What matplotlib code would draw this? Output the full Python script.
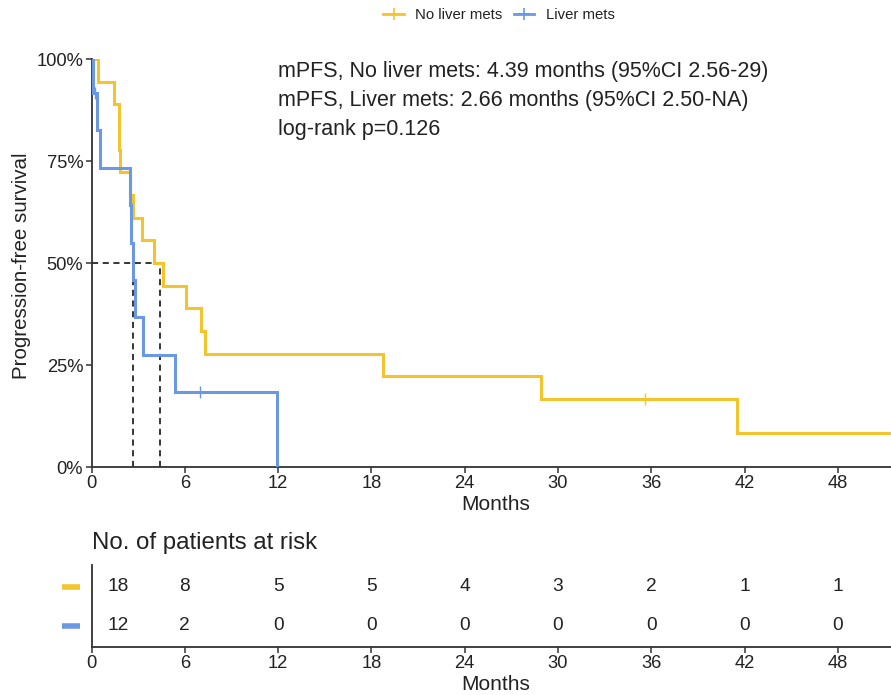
import numpy as np
import matplotlib
matplotlib.use("Agg")
import matplotlib.pyplot as plt
from matplotlib.lines import Line2D
from matplotlib import transforms

plt.rcParams['font.family'] = ['Liberation Sans', 'DejaVu Sans']

# ---- data: progression-free survival times (months) and event flags (1 = progression, 0 = censored)
no_liver_times = [0.39, 1.44, 1.75, 1.80, 1.85, 2.50, 2.70, 3.25, 4.05, 4.63,
                  6.08, 7.05, 7.33, 18.75, 28.90, 35.60, 41.50, 53.00]
no_liver_events = [1, 1, 1, 1, 1, 1, 1, 1, 1, 1,
                   1, 1, 1, 1, 1, 0, 1, 0]
liver_times = [0.10, 0.25, 0.35, 0.56, 2.48, 2.56, 2.66, 2.80, 3.34, 5.38, 6.95, 11.95]
liver_events = [1, 0, 1, 1, 1, 1, 1, 1, 1, 1, 0, 1]

group_names = ["No liver mets", "Liver mets"]
group_colors = ["#F3C42C", "#6A98E4"]
medians = [4.39, 2.66]

risk_times = [0, 6, 12, 18, 24, 30, 36, 42, 48]
risk_no_liver = [18, 8, 5, 5, 4, 3, 2, 1, 1]
risk_liver = [12, 2, 0, 0, 0, 0, 0, 0, 0]

annot_lines = ["mPFS, No liver mets: 4.39 months (95%CI 2.56-29)",
               "mPFS, Liver mets: 2.66 months (95%CI 2.50-NA)",
               "log-rank p=0.126"]


def kaplan_meier(times, events):
    t = np.asarray(times, float)
    e = np.asarray(events, int)
    order = np.lexsort((-e, t))
    t, e = t[order], e[order]
    n = len(t)
    xs, ys = [0.0], [1.0]
    cens_x, cens_y = [], []
    s = 1.0
    at_risk = n
    for ti, ei in zip(t, e):
        if ei == 1:
            xs.append(ti); ys.append(s)
            s *= (at_risk - 1) / at_risk
            xs.append(ti); ys.append(s)
        else:
            cens_x.append(ti); cens_y.append(s)
        at_risk -= 1
    if xs[-1] < t.max():
        xs.append(t.max()); ys.append(s)
    return np.array(xs), np.array(ys), cens_x, cens_y


W, H = 891, 695
fig = plt.figure(figsize=(W / 100, H / 100), dpi=100)
TXT = "#222222"
AX = "#333333"
TICK_FS = 13.2

x_left = 91.5
xmax = (W - x_left) / (93.3 / 6)

# ---- main survival panel
ax = fig.add_axes([x_left / W, 1 - 467 / H, 1 - x_left / W, 408 / H])
for (times, events), col in zip([(no_liver_times, no_liver_events),
                                 (liver_times, liver_events)], group_colors):
    xs, ys, cx, cy = kaplan_meier(times, events)
    ax.plot(xs, ys, color=col, lw=2.2, solid_joinstyle='miter', zorder=3)
    ax.plot(cx, cy, linestyle='none', marker='|', markersize=9, mew=1.0,
            color=col, zorder=3)

# median guide lines
ax.plot([0, max(medians)], [0.5, 0.5], color='black', lw=1.1, ls=(0, (4, 3)), zorder=2)
for m in medians:
    ax.plot([m, m], [0, 0.5], color='black', lw=1.1, ls=(0, (4, 3)), zorder=2)

ax.set_xlim(0, xmax)
ax.set_ylim(0, 1)
ax.set_xticks(risk_times)
ax.set_yticks([0, 0.25, 0.5, 0.75, 1.0])
ax.set_yticklabels(["0%", "25%", "50%", "75%", "100%"])
for sp in ['top', 'right']:
    ax.spines[sp].set_visible(False)
for sp in ['left', 'bottom']:
    ax.spines[sp].set_color(AX)
    ax.spines[sp].set_linewidth(1.3)
ax.tick_params(axis='both', direction='out', length=4, width=1.1, color=AX,
               labelsize=TICK_FS, labelcolor=TXT, pad=2)

fig.text(496 / W, 1 - 505 / H, "Months", ha='center', va='center', fontsize=15, color=TXT)
fig.text(22 / W, 1 - 265.5 / H, "Progression-free survival", ha='center', va='center',
         rotation=90, fontsize=14.8, color=TXT)

for i, line in enumerate(annot_lines):
    fig.text(278 / W, 1 - (71 + 29.5 * i) / H, line, ha='left', va='center',
             fontsize=15.5, color=TXT)

# legend
handles = [Line2D([0], [0], color=c, lw=2, marker='+', markersize=8, mew=1.2)
           for c in group_colors]
fig.legend(handles, group_names, loc='center', bbox_to_anchor=(499 / W, 1 - 15 / H),
           ncol=2, frameon=False, fontsize=10.7, handlelength=1.35, handletextpad=0.8,
           columnspacing=0.74, labelcolor=TXT, borderpad=0.2)

# ---- number-at-risk table
rax = fig.add_axes([x_left / W, 1 - 647 / H, 1 - x_left / W, 82 / H])
rax.set_xlim(0, xmax)
rax.set_ylim(1.54, -0.56)
for row, counts in enumerate([risk_no_liver, risk_liver]):
    for t, n in zip(risk_times, counts):
        if t == 0:
            rax.annotate(str(n), (t, row), xytext=(19, 0), textcoords='offset points',
                         ha='center', va='center', fontsize=13.8, color=TXT)
        else:
            rax.text(t, row, str(n), ha='center', va='center', fontsize=13.8, color=TXT)

bt = transforms.blended_transform_factory(fig.transFigure, rax.transData)
for row, col in enumerate(group_colors):
    rax.add_line(Line2D([62 / W, 80 / W], [row, row], transform=bt, color=col,
                        lw=4, solid_capstyle='butt', clip_on=False))

rax.set_xticks(risk_times)
rax.set_yticks([])
for sp in ['top', 'right']:
    rax.spines[sp].set_visible(False)
for sp in ['left', 'bottom']:
    rax.spines[sp].set_color(AX)
    rax.spines[sp].set_linewidth(1.3)
rax.tick_params(axis='x', direction='out', length=4, width=1.1, color=AX,
                labelsize=TICK_FS, labelcolor=TXT, pad=2)

fig.text(92 / W, 1 - 543 / H, "No. of patients at risk", ha='left', va='center',
         fontsize=17.3, color=TXT)
fig.text(496 / W, 1 - 684 / H, "Months", ha='center', va='center', fontsize=15, color=TXT)

fig.savefig("out.png", dpi=100)
